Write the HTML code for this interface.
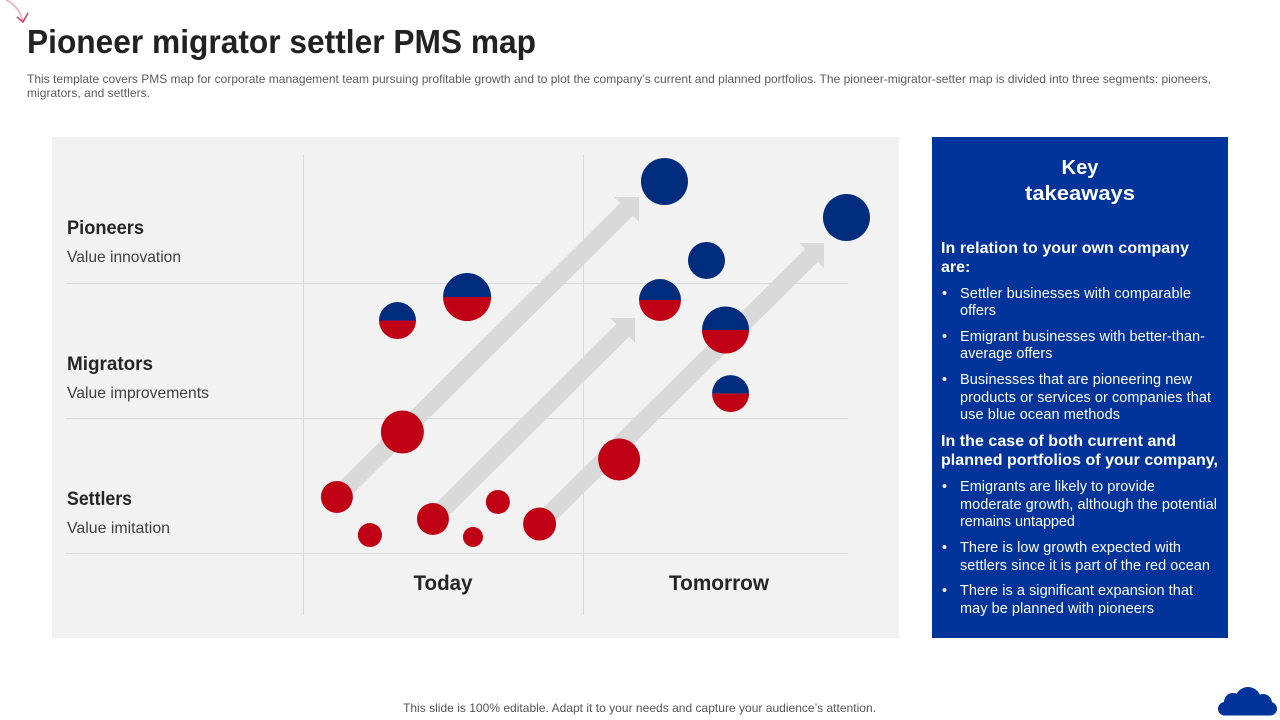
<!DOCTYPE html>
<html lang="en">
<head>
<meta charset="utf-8">
<title>Pioneer migrator settler PMS map</title>
<style>
html,body{margin:0;padding:0;background:#fff;width:1280px;height:720px;overflow:hidden}
svg{display:block;font-family:"Liberation Sans",Arial,sans-serif}
.sub{font-size:12px;fill:#5a5a5a}
.rowb{font-size:19px;font-weight:bold;fill:#262626}
.rowt{font-size:15.6px;fill:#404040}
.colh{font-size:21px;font-weight:bold;fill:#262626;text-anchor:middle}
.kh{font-size:20.5px;font-weight:bold;fill:#fff;text-anchor:middle}
.kb{font-size:16px;font-weight:bold;fill:#fff}
.kt{font-size:14.5px;fill:#fff}
.gl{stroke:#d9d9d9;stroke-width:1}
</style>
</head>
<body>
<svg id="slide" width="1280" height="720" viewBox="0 0 1280 720" xmlns="http://www.w3.org/2000/svg">
  <g fill="none">
    <path d="M6 0 C13 3 20 10 23 21" stroke="#e8b9c3" stroke-width="2"/>
    <path d="M17 17 L23 22 L28 13" stroke="#c04a64" stroke-width="1.6"/>
  </g>
  <text x="27" y="53" font-size="33" font-weight="bold" fill="#222" textLength="509" lengthAdjust="spacingAndGlyphs">Pioneer migrator settler PMS map</text>
  <text class="sub" x="27" y="83" textLength="1184">This template covers PMS map for corporate management team pursuing profitable growth and to plot the company’s current and planned portfolios. The pioneer-migrator-setter map is divided into three segments: pioneers,</text>
  <text class="sub" x="27" y="97" textLength="123">migrators, and settlers.</text>

  <rect x="52" y="137" width="847" height="501" fill="#f2f2f2"/>
  <g>
    <line class="gl" x1="66" x2="848" y1="283.5" y2="283.5"/>
    <line class="gl" x1="66" x2="848" y1="418.5" y2="418.5"/>
    <line class="gl" x1="66" x2="848" y1="553.5" y2="553.5"/>
    <line class="gl" x1="303.5" x2="303.5" y1="155" y2="615"/>
    <line class="gl" x1="583.5" x2="583.5" y1="155" y2="615"/>
  </g>
  <g id="arrows"></g>
  <g id="bubbles"></g>

  <text class="rowb" x="67" y="234" textLength="77" lengthAdjust="spacingAndGlyphs">Pioneers</text>
  <text class="rowt" x="67" y="262" textLength="114" lengthAdjust="spacingAndGlyphs">Value innovation</text>
  <text class="rowb" x="67" y="370" textLength="86" lengthAdjust="spacingAndGlyphs">Migrators</text>
  <text class="rowt" x="67" y="398" textLength="142" lengthAdjust="spacingAndGlyphs">Value improvements</text>
  <text class="rowb" x="67" y="505" textLength="65" lengthAdjust="spacingAndGlyphs">Settlers</text>
  <text class="rowt" x="67" y="533" textLength="103" lengthAdjust="spacingAndGlyphs">Value imitation</text>
  <text class="colh" x="443" y="590" textLength="59" lengthAdjust="spacingAndGlyphs">Today</text>
  <text class="colh" x="719" y="590" textLength="100" lengthAdjust="spacingAndGlyphs">Tomorrow</text>

  <rect x="932" y="137" width="296" height="501" fill="#00349b"/>
  <g>
    <text class="kh" x="1080" y="174" textLength="37" lengthAdjust="spacingAndGlyphs">Key</text>
    <text class="kh" x="1080" y="200" textLength="110" lengthAdjust="spacingAndGlyphs">takeaways</text>
    <text class="kb" x="941" y="253" textLength="248">In relation to your own company</text>
    <text class="kb" x="941" y="272">are:</text>
    <text class="kt" x="942" y="298">•</text>
    <text class="kt" x="960" y="298" textLength="231">Settler businesses with comparable</text>
    <text class="kt" x="960" y="315">offers</text>
    <text class="kt" x="942" y="341">•</text>
    <text class="kt" x="960" y="341" textLength="245">Emigrant businesses with better-than-</text>
    <text class="kt" x="960" y="358">average offers</text>
    <text class="kt" x="942" y="384">•</text>
    <text class="kt" x="960" y="384" textLength="232">Businesses that are pioneering new</text>
    <text class="kt" x="960" y="402" textLength="251">products or services or companies that</text>
    <text class="kt" x="960" y="419" textLength="160">use blue ocean methods</text>
    <text class="kb" x="941" y="446" textLength="235">In the case of both current and</text>
    <text class="kb" x="941" y="465" textLength="277">planned portfolios of your company,</text>
    <text class="kt" x="942" y="491">•</text>
    <text class="kt" x="960" y="491" textLength="195">Emigrants are likely to provide</text>
    <text class="kt" x="960" y="509" textLength="257">moderate growth, although the potential</text>
    <text class="kt" x="960" y="526" textLength="115">remains untapped</text>
    <text class="kt" x="942" y="552">•</text>
    <text class="kt" x="960" y="552" textLength="221">There is low growth expected with</text>
    <text class="kt" x="960" y="570" textLength="250">settlers since it is part of the red ocean</text>
    <text class="kt" x="942" y="595">•</text>
    <text class="kt" x="960" y="595" textLength="233">There is a significant expansion that</text>
    <text class="kt" x="960" y="613" textLength="194">may be planned with pioneers</text>
  </g>

  <text x="403" y="712" font-size="12" fill="#555" textLength="473">This slide is 100% editable. Adapt it to your needs and capture your audience’s attention.</text>
  <g fill="#00349b">
    <rect x="1218" y="702" width="59" height="13.5" rx="6.7"/>
    <circle cx="1233" cy="702" r="9"/>
    <circle cx="1248" cy="700" r="13"/>
    <circle cx="1263" cy="703" r="9"/>
  </g>
</svg>
<script>
// Bubble data: time position (0 = start of Today, 1 = start of Tomorrow), segment level (0 = settlers floor, 3 = pioneers top), size, kind
const bubbleTime  = [1.291, 1.941, 1.441, 1.275, 1.509, 1.527, 0.586, 0.3375, 0.355, 0.121, 0.239, 0.464, 0.696, 0.607, 0.845, 1.129];
const bubbleLevel = [2.752, 2.485, 2.167, 1.874, 1.652, 1.181, 1.896, 1.722, 0.896, 0.415, 0.133, 0.252, 0.378, 0.119, 0.215, 0.693];
const bubbleSize  = [23.5, 23.5, 18.5, 21, 23.5, 18.5, 24, 18.5, 21.5, 16, 12, 16, 12, 10, 16.5, 21];
const bubbleKind  = ['pioneer','pioneer','pioneer','migrator','migrator','migrator','migrator','migrator','settler','settler','settler','settler','settler','settler','settler','settler'];
// Arrow data: start and end in the same time / level units
const arrowStartTime  = [0.121, 0.464, 0.845];
const arrowStartLevel = [0.415, 0.252, 0.215];
const arrowEndTime    = [1.2, 1.186, 1.861];
const arrowEndLevel   = [2.637, 1.741, 2.296];

const xScale = t => 303 + 280 * t;
const yScale = v => 553 - 135 * v;
const rScale = s => s;

const NS = 'http://www.w3.org/2000/svg';
const NAVY = '#002c7e';
const RED = '#c00014';
const arrowLayer = document.getElementById('arrows');
const bubbleLayer = document.getElementById('bubbles');

arrowEndTime.forEach((_, i) => {
  const x0 = xScale(arrowStartTime[i]), y0 = yScale(arrowStartLevel[i]);
  const x1 = xScale(arrowEndTime[i]), y1 = yScale(arrowEndLevel[i]);
  const line = document.createElementNS(NS, 'line');
  
  
  line.setAttribute('x1', x0);
  line.setAttribute('y1', y0);
  line.setAttribute('x2', x1 - 8);
  line.setAttribute('y2', y1 + 8);
  line.setAttribute('stroke', '#d9d9d9');
  line.setAttribute('stroke-width', '18');
  arrowLayer.appendChild(line);
  const head = document.createElementNS(NS, 'polygon');
  
  
  head.setAttribute('points', `${x1},${y1} ${x1 - 25},${y1} ${x1},${y1 + 25}`);
  head.setAttribute('fill', '#d9d9d9');
  arrowLayer.appendChild(head);
});

bubbleTime.forEach((_, i) => {
  const cx = xScale(bubbleTime[i]), cy = yScale(bubbleLevel[i]), r = rScale(bubbleSize[i]);
  const kind = bubbleKind[i];
  const g = document.createElementNS(NS, 'g');
  
  
  if (kind === 'migrator') {
    const top = document.createElementNS(NS, 'path');
    top.setAttribute('d', `M${cx - r} ${cy} A${r} ${r} 0 0 1 ${cx + r} ${cy} Z`);
    top.setAttribute('fill', NAVY);
    g.appendChild(top);
    const bot = document.createElementNS(NS, 'path');
    bot.setAttribute('d', `M${cx - r} ${cy} A${r} ${r} 0 0 0 ${cx + r} ${cy} Z`);
    bot.setAttribute('fill', RED);
    g.appendChild(bot);
  } else {
    const c = document.createElementNS(NS, 'circle');
    c.setAttribute('cx', cx);
    c.setAttribute('cy', cy);
    c.setAttribute('r', r);
    c.setAttribute('fill', kind === 'pioneer' ? NAVY : RED);
    g.appendChild(c);
  }
  bubbleLayer.appendChild(g);
});
</script>
</body>
</html>
